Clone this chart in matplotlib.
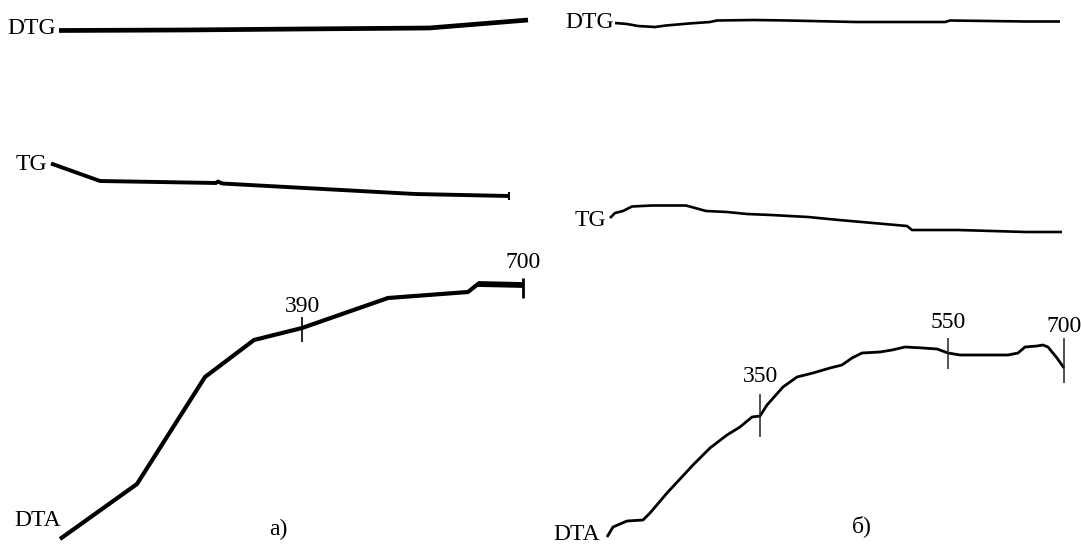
"""Термограммы образцов а) и б): кривые DTG, TG и DTA с отметками температур."""

import matplotlib

matplotlib.use("Agg")
import matplotlib.pyplot as plt

plt.rcParams["font.family"] = ["Liberation Serif", "DejaVu Serif"]

# --- панель а) ---
a_dtg_x = [59, 183, 300, 429, 528]
a_dtg_y = [30.5, 30, 29, 28, 20]

a_tg_x = [51, 100, 216, 218, 222, 415, 509]
a_tg_y = [163.5, 181, 183, 181.5, 183.5, 194, 196]

a_dta_x = [60, 137, 205, 254, 302, 388, 468, 478, 523]
a_dta_y = [539, 484, 377, 340, 328, 298, 292, 284, 285]

a_marks_x = [302, 523]
a_marks_top = [317, 278]
a_marks_bottom = [342, 298]
a_marks_text = ["390", "700"]
a_marks_text_y = [307, 263]

# --- панель б) ---
b_dtg_x = [615, 627, 638, 655, 666, 689, 710, 717, 754, 788, 856, 945, 950, 1026, 1060]
b_dtg_y = [23, 24, 26, 27, 25.5, 23.5, 22, 20.5, 20, 20.5, 22, 22, 20.5, 21.5, 21.5]

b_tg_x = [610, 615, 623, 632, 652, 686, 706, 727, 747, 771, 808, 839, 873, 907,
          912, 958, 1026, 1062]
b_tg_y = [218, 213, 211, 206.5, 205.5, 205.5, 211, 212, 214, 215, 217, 220, 223, 226,
          230, 230, 232, 232]

b_dta_x = [607, 613, 627, 643, 650, 667, 693, 710, 727, 740, 752, 760, 767, 783,
           797, 813, 830, 842, 852, 862, 880, 892, 905, 923, 937, 948, 960, 980,
           1008, 1018, 1025, 1037, 1043, 1048, 1057, 1064]
b_dta_y = [537, 527, 521, 520, 513, 493, 465, 448, 435, 427, 417, 416, 405, 387,
           377, 373, 368, 365, 358, 353, 352, 350, 347, 348, 349, 353, 355, 355,
           355, 353, 347, 346, 345, 347, 358, 368]

b_marks_x = [760, 948, 1064]
b_marks_top = [394, 338, 338]
b_marks_bottom = [437, 369, 383]
b_marks_text = ["350", "550", "700"]
b_marks_text_y = [377, 323, 327]

# подписи кривых: (текст, x, y)
curve_labels = [
    ("DTG", 32, 29), ("TG", 31, 165), ("DTA", 38, 521),
    ("DTG", 590, 23), ("TG", 590, 221), ("DTA", 577, 535),
]
panel_labels = [("а)", 278, 529), ("б)", 862, 526)]

fig = plt.figure(figsize=(10.81, 5.46), dpi=100)
ax = fig.add_axes([0, 0, 1, 1])
ax.set_xlim(0, 1081)
ax.set_ylim(546, 0)
ax.axis("off")

style = dict(color="black", solid_capstyle="butt", solid_joinstyle="round")
fs = 17

ax.plot(a_dtg_x, a_dtg_y, lw=3.4, **style)
ax.plot(a_tg_x, a_tg_y, lw=2.8, **style)
ax.vlines(a_tg_x[-1], a_tg_y[-1] - 4, a_tg_y[-1] + 4, color="black", lw=1.5)
ax.plot(a_dta_x, a_dta_y, lw=3.0, **style)
ax.plot(a_dta_x[-2:], a_dta_y[-2:], lw=4.2, **style)
ax.vlines(a_marks_x, a_marks_top, a_marks_bottom, color="black", lw=[1.2, 2.0])
for x, y, t in zip(a_marks_x, a_marks_text_y, a_marks_text):
    ax.text(x, y, t, fontsize=fs, ha="center", va="center")

ax.plot(b_dtg_x, b_dtg_y, lw=1.9, **style)
ax.plot(b_tg_x, b_tg_y, lw=1.9, **style)
ax.plot(b_dta_x, b_dta_y, lw=2.0, **style)
ax.vlines(b_marks_x, b_marks_top, b_marks_bottom, color="#222222", lw=1.1)
for x, y, t in zip(b_marks_x, b_marks_text_y, b_marks_text):
    ax.text(x, y, t, fontsize=fs, ha="center", va="center")

for t, x, y in curve_labels + panel_labels:
    ax.text(x, y, t, fontsize=fs, ha="center", va="center")

fig.savefig("out.png", dpi=100, facecolor="white")
